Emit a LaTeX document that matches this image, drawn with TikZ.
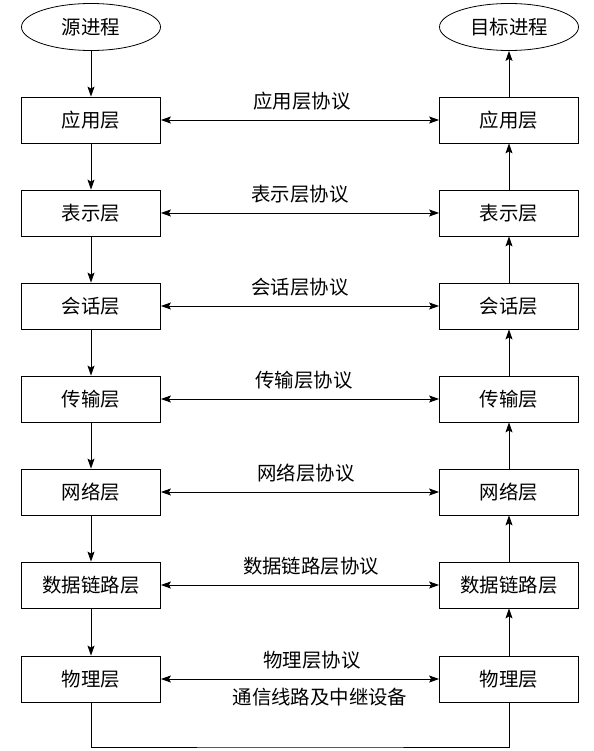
\documentclass[tikz,border=0pt]{standalone}
\usepackage{fontspec}
\setmainfont{Noto Sans CJK SC}
\usetikzlibrary{shapes,arrows.meta}
\tikzset{
  layerbox/.style={draw,line width=0.8bp,minimum width=139bp,minimum height=46bp,inner sep=0pt},
  procnode/.style={draw,ellipse,line width=0.8bp,minimum width=139bp,minimum height=47bp,inner sep=0pt},
  flow/.style={line width=0.8bp,-{Stealth[length=10bp,width=7bp,inset=2bp]}},
  peer/.style={line width=0.8bp,{Stealth[length=10bp,width=7bp,inset=2bp]}-{Stealth[length=10bp,width=7bp,inset=2bp]}},
  protolabel/.style={inner sep=0pt}
}
\newcommand{\layer}[4]{\node[layerbox] (#1) at ( #2 , #3 ) {#4};}
\newcommand{\peerlink}[4]{\draw[peer] (#1.east) -- (#2.west) node[protolabel,midway,above=9bp,xshift=#4] {#3};}

\begin{document}
\begin{tikzpicture}[x=1bp,y=-1bp,font=\fontsize{19.5}{22}\selectfont]
        \useasboundingbox (0,0) rectangle (594,751);
        % processes
        \node[procnode] (src) at (91,27) {源进程};
        \node[procnode] (dst) at (509,27) {目标进程};
        % sender side
        \layer{la}{91}{120}{应用层}
        \layer{lb}{91}{213}{表示层}
        \layer{lc}{91}{306}{会话层}
        \layer{ld}{91}{399}{传输层}
        \layer{le}{91}{492}{网络层}
        \layer{lf}{91}{585}{数据链路层}
        \layer{lg}{91}{679}{物理层}
        % receiver side
        \layer{ra}{509}{120}{应用层}
        \layer{rb}{509}{213}{表示层}
        \layer{rc}{509}{306}{会话层}
        \layer{rd}{509}{399}{传输层}
        \layer{re}{509}{492}{网络层}
        \layer{rf}{509}{585}{数据链路层}
        \layer{rg}{509}{679}{物理层}

        % down the sender
        \draw[flow] (src) -- (la);
        \draw[flow] (la) -- (lb);
        \draw[flow] (lb) -- (lc);
        \draw[flow] (lc) -- (ld);
        \draw[flow] (ld) -- (le);
        \draw[flow] (le) -- (lf);
        \draw[flow] (lf) -- (lg);
        % up the receiver
        \draw[flow] (rg) -- (rf);
        \draw[flow] (rf) -- (re);
        \draw[flow] (re) -- (rd);
        \draw[flow] (rd) -- (rc);
        \draw[flow] (rc) -- (rb);
        \draw[flow] (rb) -- (ra);
        \draw[flow] (ra) -- (dst);

        % peer protocols
        \peerlink{la}{ra}{应用层协议}{2bp}
        \peerlink{lb}{rb}{表示层协议}{0bp}
        \peerlink{lc}{rc}{会话层协议}{0bp}
        \peerlink{ld}{rd}{传输层协议}{4bp}
        \peerlink{le}{re}{网络层协议}{6bp}
        \peerlink{lf}{rf}{数据链路层协议}{11bp}
        \peerlink{lg}{rg}{物理层协议}{12bp}
        \node[protolabel] (medium) at (320,697) {通信线路及中继设备};

        % physical medium
        \coordinate (wire) at (300,747);
        \draw[line width=0.8bp] (lg.south) |- (wire) -| (rg.south);
    \end{tikzpicture}
\end{document}
